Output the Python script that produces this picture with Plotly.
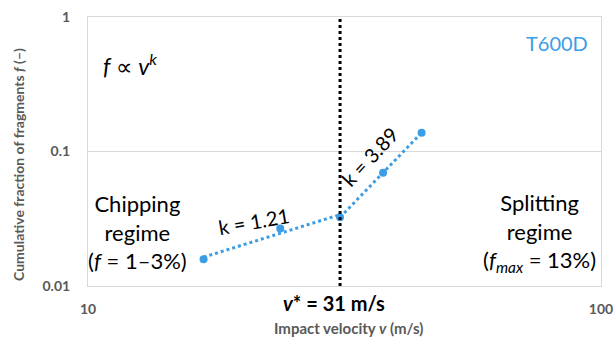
import numpy as np
import plotly.graph_objects as go

# Data
velocity = [16.8, 23.7, 31.0, 37.6, 44.7]          # impact velocity v (m/s)
fraction = [0.0158, 0.0268, 0.0324, 0.0695, 0.138]  # cumulative fraction f
v_star = 31
seg1 = [0, 1, 2]   # chipping regime points
seg2 = [2, 3, 4]   # splitting regime points
k_labels = ["k = 1.21", "k = 3.89"]
y_ticks = [0.01, 0.1, 1]
y_tick_text = ["0.01", "0.1", "1"]
x_ticks = [10, 100]
x_tick_text = ["10", "100"]

BLUE = "#3b9de6"
GRAY = "#595959"
FONT = "Lato"

fig = go.Figure()

# fitted power-law lines per regime (least squares in log-log space)
for seg in (seg1, seg2):
    lv = np.log10([velocity[i] for i in seg])
    lf = np.log10([fraction[i] for i in seg])
    slope, icpt = np.polyfit(lv, lf, 1)
    xs = np.array([lv[0], lv[-1]])
    fig.add_trace(go.Scatter(
        x=10 ** xs, y=10 ** (icpt + slope * xs), mode="lines",
        line=dict(color=BLUE, width=3, dash="dot"),
        hoverinfo="skip", showlegend=False))

fig.add_trace(go.Scatter(
    x=velocity, y=fraction, mode="markers",
    marker=dict(color=BLUE, size=8), showlegend=False))

fig.add_shape(type="line", x0=v_star, x1=v_star, y0=0, y1=1,
              xref="x", yref="paper",
              line=dict(color="black", width=3, dash="dot"))

ann = [
    dict(x=0.025, y=0.822, xref="paper", yref="paper", xanchor="left",
         text="<i>f</i> ∝ <i>v<sup>k</sup></i>", font=dict(size=23)),
    dict(x=0.979, y=0.903, xref="paper", yref="paper", xanchor="right",
         text="T600D", font=dict(size=20, color=BLUE)),
    dict(x=0.097, y=0.20, xref="paper", yref="paper",
         text="Chipping<br>regime<br>(<i>f</i> = 1–3%)",
         font=dict(size=22)),
    dict(x=0.881, y=0.20, xref="paper", yref="paper",
         text="Splitting<br>regime<br>(<i>f<sub>max</sub></i> = 13%)",
         font=dict(size=22)),
    dict(x=np.log10(21.1), y=np.log10(0.0303), xref="x", yref="y",
         text=k_labels[0], textangle=-10, font=dict(size=20)),
    dict(x=np.log10(35.5), y=np.log10(0.092), xref="x", yref="y",
         text=k_labels[1], textangle=-47, font=dict(size=20)),
    dict(x=0.48, y=-0.063, xref="paper", yref="paper",
         text="<b><i>v</i>* = 31 m/s</b>", font=dict(size=20)),
    dict(x=0.508, y=-0.156, xref="paper", yref="paper",
         text="Impact velocity <i>v</i> (m/s)",
         font=dict(size=15, color=GRAY, weight="bold")),
    dict(x=-0.1345, y=0.45, xref="paper", yref="paper", textangle=-90,
         text="Cumulative fraction of fragments <i>f</i> (–)",
         font=dict(size=14, color=GRAY, weight="bold")),
]
for a in ann:
    a.setdefault("showarrow", False)
    a.setdefault("xanchor", "center")
    a.setdefault("yanchor", "middle")
    a["font"].setdefault("color", "black")
    a["font"]["family"] = FONT
    fig.add_annotation(**a)

fig.update_layout(
    width=616, height=339,
    margin=dict(l=88, r=15, t=17, b=53, autoexpand=False),
    paper_bgcolor="white", plot_bgcolor="white",
    font=dict(family=FONT),
    xaxis=dict(type="log", range=[1, 2], tickvals=x_ticks, ticktext=x_tick_text,
               showgrid=False, showline=True, linecolor="#d9d9d9", mirror=True,
               linewidth=1, ticks="", ticklabelstandoff=10, automargin=False,
               tickfont=dict(size=14, color=GRAY, weight="bold")),
    yaxis=dict(type="log", range=[-2, 0], tickvals=y_ticks, ticktext=y_tick_text,
               showgrid=True, gridcolor="#d9d9d9", showline=True,
               linecolor="#d9d9d9", mirror=True, linewidth=1, ticks="",
               ticklabelstandoff=14, zeroline=False, automargin=False,
               tickfont=dict(size=14, color=GRAY, weight="bold")),
)

fig.write_html("out.html", config={"displayModeBar": False},
               post_script="document.body.style.margin='0';")
